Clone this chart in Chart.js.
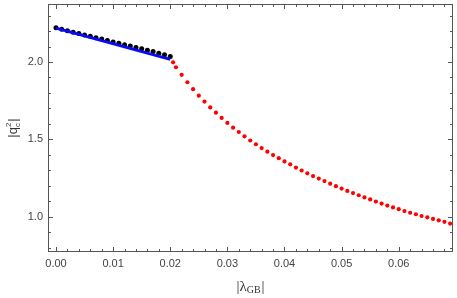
<!DOCTYPE html>
<html>
<head>
<meta charset="utf-8">
<script src="https://cdn.jsdelivr.net/npm/chart.js@4.4.1/dist/chart.umd.min.js"></script>
<style>
  html, body { margin: 0; padding: 0; background: #fff; }
</style>
</head>
<body>
<canvas id="chart" width="457" height="298"></canvas>
<script>
// black points (small |lambda|)
const lambdaSmall = [0.000, 0.001, 0.002, 0.003, 0.004, 0.005, 0.006, 0.007, 0.008, 0.009, 0.010,
  0.011, 0.012, 0.013, 0.014, 0.015, 0.016, 0.017, 0.018, 0.019, 0.020]
const q2Small = [2.221, 2.212, 2.202, 2.193, 2.184, 2.175, 2.166, 2.157, 2.148, 2.139, 2.130,
  2.121, 2.112, 2.103, 2.094, 2.085, 2.076, 2.067, 2.057, 2.047, 2.036]

// blue straight line
const fitLambda = [0.000, 0.020]
const fitQ2 = [2.219, 2.017]

// red points (large |lambda|)
const lambdaLarge = [0.0205, 0.021, 0.022, 0.023, 0.024, 0.025, 0.026, 0.027, 0.028, 0.029, 0.030,
  0.031, 0.032, 0.033, 0.034, 0.035, 0.036, 0.037, 0.038, 0.039, 0.040,
  0.041, 0.042, 0.043, 0.044, 0.045, 0.046, 0.047, 0.048, 0.049, 0.050,
  0.051, 0.052, 0.053, 0.054, 0.055, 0.056, 0.057, 0.058, 0.059, 0.060,
  0.061, 0.062, 0.063, 0.064, 0.065, 0.066, 0.067, 0.068, 0.069]
const q2Large = [1.998, 1.966, 1.917, 1.869, 1.824, 1.782, 1.744, 1.706, 1.672, 1.638, 1.606,
  1.575, 1.547, 1.519, 1.492, 1.468, 1.443, 1.420, 1.398, 1.378, 1.357,
  1.338, 1.317, 1.298, 1.280, 1.262, 1.246, 1.230, 1.213, 1.197, 1.181,
  1.166, 1.152, 1.138, 1.124, 1.111, 1.097, 1.084, 1.071, 1.059, 1.048,
  1.036, 1.025, 1.015, 1.004, 0.995, 0.985, 0.976, 0.966, 0.955]

const xMajor = [0.00, 0.01, 0.02, 0.03, 0.04, 0.05, 0.06]
const yMajor = [1.0, 1.5, 2.0]
const xMinorStep = 0.002
const yMinorStep = 0.1

const pts = (xs, ys) => xs.map((x, i) => ({ x: x, y: ys[i] }))

const frameTicks = {
  id: 'frameTicks',
  afterDraw(chart) {
    const { ctx, chartArea: a, scales: { x, y } } = chart
    ctx.save()
    ctx.strokeStyle = '#555'
    ctx.lineWidth = 1
    ctx.strokeRect(a.left + 0.5, a.top + 0.5, a.right - a.left - 1, a.bottom - a.top - 1)

    ctx.beginPath()
    for (let i = -1; i <= 35; i++) {
      const v = i * xMinorStep
      if (v < x.min || v > x.max) continue
      const len = i % 5 === 0 ? 5 : 3
      const px = Math.round(x.getPixelForValue(v)) + 0.5
      ctx.moveTo(px, a.bottom); ctx.lineTo(px, a.bottom - len)
      ctx.moveTo(px, a.top); ctx.lineTo(px, a.top + len)
    }
    for (let i = 7; i <= 24; i++) {
      const v = i * yMinorStep
      if (v < y.min || v > y.max) continue
      const len = i % 5 === 0 ? 5 : 3
      const py = Math.round(y.getPixelForValue(v)) + 0.5
      ctx.moveTo(a.left, py); ctx.lineTo(a.left + len, py)
      ctx.moveTo(a.right, py); ctx.lineTo(a.right - len, py)
    }
    ctx.stroke()

    // x axis title |λ_GB|
    ctx.fillStyle = '#333'
    ctx.textBaseline = 'alphabetic'
    const big = '15px "Liberation Serif"'
    const small = '10px "Liberation Serif"'
    ctx.font = big
    const wBar = ctx.measureText('|').width
    const wLam = ctx.measureText('λ').width
    ctx.font = small
    const wGB = ctx.measureText('GB').width
    const total = wBar * 2 + wLam + wGB + 1
    let cx = (a.left + a.right) / 2 - total / 2
    const by = 291
    ctx.font = big
    ctx.fillText('|', cx, by); cx += wBar
    ctx.fillText('λ', cx, by); cx += wLam
    ctx.font = small
    ctx.fillText('GB', cx, by + 2); cx += wGB + 1
    ctx.font = big
    ctx.fillText('|', cx, by)

    // y axis title |q_c^2|
    ctx.translate(17, (a.top + a.bottom) / 2)
    ctx.rotate(-Math.PI / 2)
    const f1 = '13px "Liberation Sans"'
    const f2 = '8px "Liberation Sans"'
    ctx.font = f1
    const wb = ctx.measureText('|').width
    const wq = ctx.measureText('q').width
    ctx.font = f2
    const ws = Math.max(ctx.measureText('2').width, ctx.measureText('c').width)
    const tot = wb * 2 + wq + ws + 1
    let tx = -tot / 2
    ctx.font = f1
    ctx.fillText('|', tx, 0); tx += wb
    ctx.fillText('q', tx, 0); tx += wq
    ctx.font = f2
    ctx.fillText('2', tx, -6)
    ctx.fillText('c', tx, 3); tx += ws + 1
    ctx.font = f1
    ctx.fillText('|', tx, 0)
    ctx.restore()
  }
}

new Chart(document.getElementById('chart'), {
  type: 'scatter',
  data: {
    datasets: [
      {
        label: 'fit',
        data: pts(fitLambda, fitQ2),
        showLine: true,
        borderColor: '#0a0af5',
        borderWidth: 3,
        pointRadius: 0,
        order: 0
      },
      {
        label: 'small',
        data: pts(lambdaSmall, q2Small),
        backgroundColor: '#000',
        borderColor: '#000',
        pointRadius: 2.5,
        borderWidth: 0,
        order: 1
      },
      {
        label: 'large',
        data: pts(lambdaLarge, q2Large),
        backgroundColor: '#ff0000',
        borderColor: '#ff0000',
        pointRadius: 2.1,
        borderWidth: 0,
        order: 2
      }
    ]
  },
  options: {
    responsive: false,
    animation: false,
    events: [],
    layout: { padding: { top: 0, right: 1, bottom: 0, left: 0 } },
    plugins: {
      legend: { display: false },
      tooltip: { enabled: false }
    },
    scales: {
      x: {
        type: 'linear',
        min: -0.0014,
        max: 0.0695,
        afterFit: s => { s.height = 46; s.paddingLeft = 0; s.paddingRight = 0 },
        afterBuildTicks: s => { s.ticks = xMajor.map(v => ({ value: v })) },
        ticks: {
          padding: 5,
          maxRotation: 0,
          autoSkip: false,
          color: '#444',
          font: { family: 'Liberation Sans', size: 11 },
          callback: v => v.toFixed(2)
        },
        grid: { display: false, drawTicks: false },
        border: { display: false }
      },
      y: {
        type: 'linear',
        min: 0.771,
        max: 2.375,
        afterFit: s => { s.width = 48; s.paddingTop = 0; s.paddingBottom = 0 },
        afterBuildTicks: s => { s.ticks = yMajor.map(v => ({ value: v })) },
        ticks: {
          padding: 5,
          autoSkip: false,
          color: '#444',
          font: { family: 'Liberation Sans', size: 11 },
          callback: v => v.toFixed(1)
        },
        grid: { display: false, drawTicks: false },
        border: { display: false }
      }
    }
  },
  plugins: [frameTicks]
})
</script>
</body>
</html>
